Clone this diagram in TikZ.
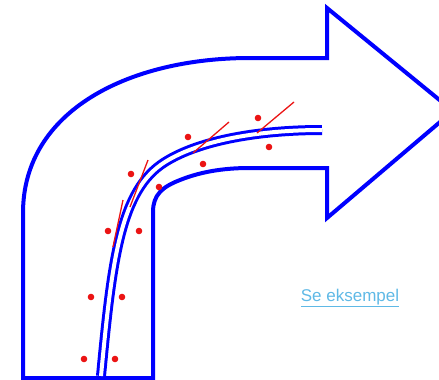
\documentclass[tikz,border=0pt]{standalone}
\usepackage{fontspec}
\setmainfont{Liberation Sans}
\definecolor{arrowblue}{RGB}{0,0,255}
\definecolor{dotred}{RGB}{235,20,20}
\definecolor{linkblue}{RGB}{95,185,230}

\begin{document}
\begin{tikzpicture}[x=1pt,y=-1pt,
  outline/.style={draw=arrowblue, line width=4pt, line join=miter},
  tube/.style={draw=arrowblue, line width=3pt, double=white, double distance=4pt},
  dot/.style={fill=dotred},
  tangent/.style={draw=dotred, line width=1.3pt}]
\useasboundingbox (0,0) rectangle (439,380);
\clip (0,0) rectangle (439,380);

% the bent arrow
\draw[outline] (23,378) -- (23,213) .. controls (23,110) and (130,58) .. (250,58)
  -- (327,58) -- (327,8) -- (453,111) -- (327,218) -- (327,168) -- (250,168)
  .. controls (230,168) and (205,170) .. (180,180)
  .. controls (162,187) and (153,195) .. (153,212) -- (153,378) -- cycle;

% the tube inside
\draw[tube] (101,376) .. controls (112,260) and (120,190) .. (165,162)
  .. controls (200,140) and (260,130) .. (322,130);

% dots on both sides
\foreach \x/\y in {84/359, 115/359, 91/297, 122/297, 108/231, 139/231,
  131/174, 159/187, 188/137, 203/164, 258/118, 269/147}
  \fill[dot] (\x,\y) circle (3.3pt);

% tangent lines
\draw[tangent] (113,247) -- (123,200);
\draw[tangent] (130,207) -- (148,160);
\draw[tangent] (193,153) -- (229,122);
\draw[tangent] (257,133) -- (294,102);

\node[text=linkblue, font=\fontsize{17}{20}\selectfont] (link) at (350,298) {\underline{Se eksempel}};
\end{tikzpicture}
\end{document}
